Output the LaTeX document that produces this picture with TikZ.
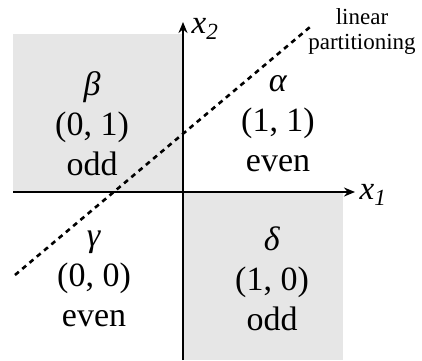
\documentclass[tikz,border=0pt]{standalone}
\usepackage{fontspec}
\setmainfont{Liberation Serif}
\usetikzlibrary{arrows.meta}
\definecolor{cellgray}{HTML}{E6E6E6}
\tikzset{
  axis/.style={line width=2.6pt, -{Stealth[length=11pt,width=9pt]}},
  quad/.style={align=center, inner sep=0pt, font=\fontsize{34}{40}\selectfont},
  axlabel/.style={inner sep=0pt, font=\fontsize{33}{36}\selectfont},
}
\begin{document}
\begin{tikzpicture}[x=1pt,y=1pt]
\useasboundingbox (0,0) rectangle (422,360);
% shaded cells
\fill[cellgray] (13,168) rectangle (183,326);
\fill[cellgray] (183,0) rectangle (343,168);

% axes
\coordinate (xfrom) at (13,168);
\coordinate (xto) at (355,168);
\coordinate (yfrom) at (183,0);
\coordinate (yto) at (183,338);
\draw[axis] (xfrom) -- (xto);
\draw[axis] (yfrom) -- (yto);
\node[axlabel] (xone) at (373,165) {\textit{x}\textsubscript{\textit{1}}};
\node[axlabel] (xtwo) at (205,331) {\textit{x}\textsubscript{\textit{2}}};

% separating line
\coordinate (lfrom) at (15,85);
\coordinate (lto) at (310,333);
\draw[line width=2.6pt, dash pattern=on 5pt off 4.5pt] (lfrom) -- (lto);
\node[align=center, inner sep=0pt, font=\fontsize{23}{25}\selectfont] (part) at (362,328) {linear\\partitioning};

% cells
\node[quad] (beta) at (92,236) {\textit{β}\\(0, 1)\\odd};
\node[quad] (alpha) at (278,236) {\textit{α}\\(1, 1)\\even};
\node[quad] (gamma) at (94,81) {\textit{γ}\\(0, 0)\\even};
\node[quad] (delta) at (272,81) {\textit{δ}\\(1, 0)\\odd};
\end{tikzpicture}
\end{document}
